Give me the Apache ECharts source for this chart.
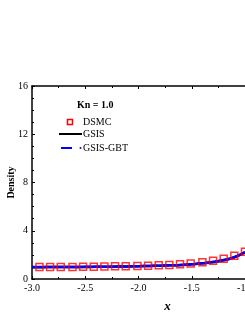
<!DOCTYPE html>
<html>
<head>
<meta charset="utf-8">
<script src="https://cdn.jsdelivr.net/npm/echarts@6/dist/echarts.min.js"></script>
<style>html,body{margin:0;padding:0;background:#fff;}#c{width:245px;height:317px;}</style>
</head>
<body>
<div id="c"></div>
<script>
var dsmcX = [-2.93,-2.83,-2.73,-2.62,-2.52,-2.42,-2.32,-2.22,-2.12,-2.01,-1.91,-1.81,-1.71,-1.61,-1.51,-1.40,-1.30,-1.20,-1.10,-1.00];
var dsmcY = [1.00,1.00,1.00,1.00,1.01,1.02,1.03,1.05,1.06,1.08,1.10,1.13,1.17,1.22,1.29,1.38,1.51,1.68,1.92,2.26];
var lineX = [-3.0,-2.9,-2.8,-2.7,-2.6,-2.5,-2.4,-2.3,-2.2,-2.1,-2.0,-1.9,-1.8,-1.7,-1.6,-1.5,-1.4,-1.3,-1.2,-1.1,-1.0];
var gsisY = [0.98,0.98,0.99,0.99,1.00,1.00,1.01,1.02,1.03,1.04,1.06,1.08,1.10,1.13,1.17,1.23,1.30,1.40,1.55,1.80,2.22];
var gbtY  = [0.99,0.99,0.99,1.00,1.00,1.01,1.01,1.02,1.03,1.04,1.06,1.08,1.10,1.13,1.17,1.23,1.30,1.41,1.57,1.82,2.24];
var yTicks = [0,4,8,12,16];
var xTicks = [-3.0,-2.5,-2.0,-1.5,-1.0];

function pairs(xs, ys){ return xs.map(function(x,i){ return [x, ys[i]]; }); }
var F = 'Liberation Serif, Times New Roman, serif';
var chart = echarts.init(document.getElementById('c'), null, {renderer:'canvas'});
chart.setOption({
  animation:false,
  backgroundColor:'#fff',
  grid:{left:32, right:0, top:86, bottom:38, containLabel:false, outerBoundsMode:'none'},
  xAxis:[{
    type:'value', min:xTicks[0], max:xTicks[xTicks.length-1], interval:0.5,
    name:'x', nameLocation:'middle', nameGap:21, nameMoveOverlap:false,
    nameTextStyle:{fontFamily:F, fontStyle:'italic', fontWeight:'bold', fontSize:13, color:'#000', padding:[0,0,0,58]},
    axisLine:{lineStyle:{color:'#000', width:1.5}},
    axisTick:{inside:true, length:3, lineStyle:{color:'#000', width:1}},
    minorTick:{show:true, splitNumber:2, length:2, lineStyle:{color:'#000'}},
    axisLabel:{fontFamily:F, fontSize:10, color:'#000', margin:4, hideOverlap:false, formatter:function(v){return v.toFixed(1);}},
    splitLine:{show:false}
  },{
    type:'value', position:'top', min:xTicks[0], max:xTicks[xTicks.length-1], interval:0.5,
    axisLine:{lineStyle:{color:'#000', width:1.5}},
    axisTick:{inside:true, length:3, lineStyle:{color:'#000', width:1}},
    minorTick:{show:true, splitNumber:2, length:2, lineStyle:{color:'#000'}},
    axisLabel:{show:false}, splitLine:{show:false}
  }],
  yAxis:{
    type:'value', min:yTicks[0], max:yTicks[yTicks.length-1], interval:4,
    name:'Density', nameLocation:'middle', nameGap:16, nameMoveOverlap:false,
    nameTextStyle:{fontFamily:F, fontWeight:'bold', fontSize:10, color:'#000'},
    axisLine:{lineStyle:{color:'#000', width:1.5}},
    axisTick:{inside:true, length:3, lineStyle:{color:'#000', width:1}},
    minorTick:{show:true, splitNumber:4, length:2, lineStyle:{color:'#000'}},
    axisLabel:{fontFamily:F, fontSize:10, color:'#000', margin:4},
    splitLine:{show:false}
  },
  series:[
    {name:'GSIS', type:'line', data:pairs(lineX, gsisY), symbol:'none', smooth:true,
     lineStyle:{color:'#000', width:2.5}, z:2},
    {name:'GSIS-GBT', type:'line', data:pairs(lineX, gbtY), symbol:'none', smooth:true,
     lineStyle:{color:'#0000ff', width:2.5}, z:3},
    {name:'DSMC', type:'scatter', data:pairs(dsmcX, dsmcY), symbol:'rect', symbolSize:7,
     itemStyle:{color:'rgba(0,0,0,0)', borderColor:'#ff0000', borderWidth:1.5}, z:4}
  ],
  graphic:[
    {type:'text', left:77, top:100, style:{text:'Kn = 1.0', font:'bold 10px '+F, fill:'#000'}},
    {type:'rect', shape:{x:67.5, y:119.5, width:5, height:5}, style:{fill:'#fff', stroke:'#ff0000', lineWidth:1.5}},
    {type:'text', left:83, top:117, style:{text:'DSMC', font:'10px '+F, fill:'#000'}},
    {type:'line', shape:{x1:59, y1:134, x2:82, y2:134}, style:{stroke:'#000', lineWidth:2}},
    {type:'text', left:83, top:129, style:{text:'GSIS', font:'10px '+F, fill:'#000'}},
    {type:'line', shape:{x1:61, y1:148, x2:72, y2:148}, style:{stroke:'#0000ff', lineWidth:2}},
    {type:'circle', shape:{cx:80.5, cy:148, r:1}, style:{fill:'#0000ff'}},
    {type:'text', left:83, top:143, style:{text:'GSIS-GBT', font:'10px '+F, fill:'#000'}}
  ]
});
</script>
</body>
</html>
